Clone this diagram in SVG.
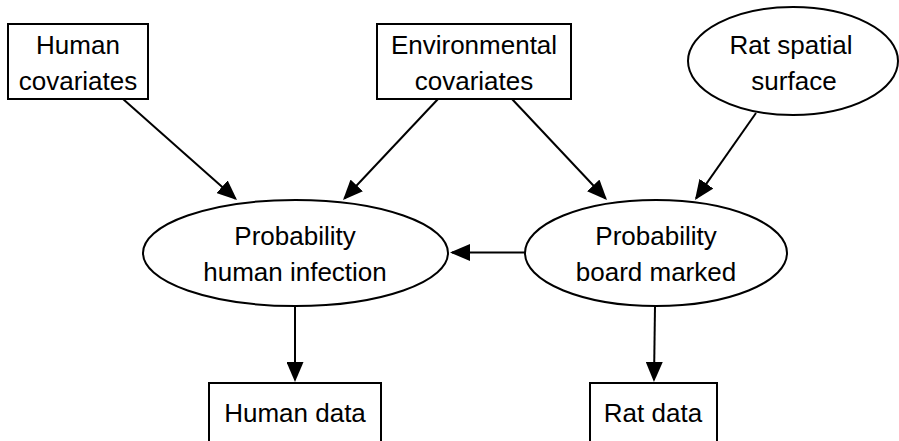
<svg xmlns="http://www.w3.org/2000/svg" width="899" height="441" viewBox="0 0 899 441">
<style>
.shape{fill:#fff;stroke:#000;stroke-width:2}
.lbl{font-family:"Liberation Sans","DejaVu Sans",sans-serif;font-size:26px;fill:#000;text-anchor:middle}
.edge{fill:none;stroke:#000;stroke-width:2}
</style>
<defs>
<marker id="arr" markerUnits="userSpaceOnUse" markerWidth="20" markerHeight="17" viewBox="0 0 20 17" refX="18" refY="8.5" orient="auto">
<path d="M0,0 L20,8.5 L0,17 z" fill="#000"/>
</marker>
</defs>
<rect width="899" height="441" fill="#fff"/>
<g id="edges">
<line class="edge" x1="123" y1="99" x2="235.5" y2="198.7" marker-end="url(#arr)"/>
<line class="edge" x1="438" y1="99" x2="344.4" y2="198.5" marker-end="url(#arr)"/>
<line class="edge" x1="512" y1="99" x2="605.6" y2="198.5" marker-end="url(#arr)"/>
<line class="edge" x1="756" y1="113" x2="696.1" y2="198.4" marker-end="url(#arr)"/>
<line class="edge" x1="525" y1="252.5" x2="452" y2="252.5" marker-end="url(#arr)"/>
<line class="edge" x1="295" y1="306" x2="295" y2="380" marker-end="url(#arr)"/>
<line class="edge" x1="655" y1="306" x2="654" y2="380" marker-end="url(#arr)"/>
</g>
<g id="human_covariates">
<rect class="shape" x="8" y="24" width="140" height="75"/>
<text class="lbl" x="78" y="54">Human</text>
<text class="lbl" x="78" y="90">covariates</text>
</g>
<g id="environmental_covariates">
<rect class="shape" x="377" y="24" width="194" height="75"/>
<text class="lbl" x="474" y="54">Environmental</text>
<text class="lbl" x="474" y="90">covariates</text>
</g>
<g id="rat_spatial_surface">
<ellipse class="shape" cx="793" cy="61" rx="105" ry="54"/>
<text class="lbl" x="791" y="54">Rat spatial</text>
<text class="lbl" x="794" y="90">surface</text>
</g>
<g id="prob_human_infection">
<ellipse class="shape" cx="295.5" cy="253" rx="152.5" ry="53"/>
<text class="lbl" x="295" y="245">Probability</text>
<text class="lbl" x="295" y="281">human infection</text>
</g>
<g id="prob_board_marked">
<ellipse class="shape" cx="656" cy="253" rx="131" ry="53"/>
<text class="lbl" x="656" y="245">Probability</text>
<text class="lbl" x="656" y="281">board marked</text>
</g>
<g id="human_data">
<rect class="shape" x="209" y="383" width="172" height="70"/>
<text class="lbl" x="295" y="422">Human data</text>
</g>
<g id="rat_data">
<rect class="shape" x="590" y="383" width="127" height="70"/>
<text class="lbl" x="653" y="422">Rat data</text>
</g>
</svg>
